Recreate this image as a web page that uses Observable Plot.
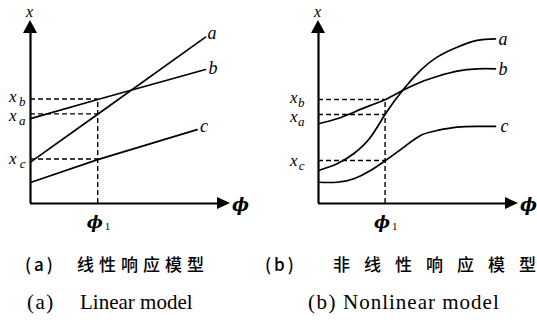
<!DOCTYPE html>
<html>
<head>
<meta charset="utf-8">
<script src="https://cdn.jsdelivr.net/npm/d3@7"></script>
<script src="https://cdn.jsdelivr.net/npm/@observablehq/plot@0.6"></script>
<style>
  html, body { margin: 0; padding: 0; background: #fff; }
  #wrap { position: relative; width: 537px; height: 331px; overflow: hidden; }
  .panel { position: absolute; top: 0; }
  .cap { position: absolute; white-space: nowrap; color: #000; }
  .zh { font-family: "Noto Sans CJK SC", sans-serif; font-size: 17px; font-weight: 500; line-height: 20px; top: 254px; }
  .en { font-family: "Liberation Serif", serif; font-size: 21px; line-height: 24px; top: 290px; }
  .par { letter-spacing: 3px; }
  .en.par { letter-spacing: 1.5px; }
  .last { letter-spacing: 0; }
</style>
</head>
<body>
<div id="wrap">
  <div class="panel" id="left" style="left:0"></div>
  <div class="panel" id="right" style="left:268px"></div>
  <span class="cap zh par" style="left:25px">(a)</span>
  <span class="cap zh" style="left:77px; letter-spacing:5px">线性响应模<span class="last">型</span></span>
  <span class="cap zh par" style="left:265px">(b)</span>
  <span class="cap zh" style="left:333px; letter-spacing:14px">非线性响应模<span class="last">型</span></span>
  <span class="cap en par" style="left:27px">(a)</span>
  <span class="cap en" style="left:80px">Linear model</span>
  <span class="cap en par" style="left:308px">(b)</span>
  <span class="cap en" style="left:343px; letter-spacing:1px">Nonlinear mode<span class="last">l</span></span>
</div>
<script>
// ---------- data (φ, x) ----------
const curveNames = ["a", "b", "c"];

// (a) linear model
const linPhiA = [0, 3.36, 8.75];
const linXA   = [2.26, 4.88, 9.09];
const linPhiB = [0, 3.36, 8.75];
const linXB   = [4.64, 5.68, 7.32];
const linPhiC = [0, 3.36, 8.33];
const linXC   = [1.15, 2.40, 4.04];
const linPhi1 = 3.36;
const linLevelNames = ["b", "a", "c"];
const linLevels = [5.71, 4.90, 2.43];

// (b) nonlinear model
const nlPhi  = [0, 0.93, 1.77, 2.6, 3.35, 4.27, 5.1, 5.93, 6.93, 7.93, 8.85];
const nlXA   = [1.80, 2.17, 2.73, 3.62, 4.90, 6.27, 7.27, 8.00, 8.54, 8.91, 9.00];
const nlXB   = [4.36, 4.63, 4.99, 5.36, 5.68, 6.21, 6.63, 6.94, 7.23, 7.36, 7.36];
const nlXC   = [1.16, 1.16, 1.35, 1.80, 2.35, 3.08, 3.72, 3.99, 4.17, 4.21, 4.21];
const nlPhi1 = 3.33;
const nlLevelNames = ["b", "a", "c"];
const nlLevels = [5.68, 4.86, 2.35];

// ---------- helpers ----------
const zip = (name, phis, xs) => phis.map((p, i) => ({curve: name, phi: p, x: xs[i]}));
const serif = "Liberation Serif, serif";

function arrowHeads(index, scales) {
  const {x, y} = scales;
  const g = d3.create("svg:g").attr("fill", "black");
  const x0 = x(0), y0 = y(0), yTop = y(10), xEnd = x(10);
  g.append("path").attr("d", `M${x0},${yTop}L${x0 - 7},${yTop + 13}L${x0 + 7},${yTop + 13}Z`);
  g.append("path").attr("d", `M${xEnd},${y0}L${xEnd - 13},${y0 - 6}L${xEnd - 13},${y0 + 6}Z`);
  return g.node();
}

function panel({width, marginLeft, marginRight, series, curve, phi1, levels, levelNames,
                labelOffsets, levelDy, xDx, subDx}) {
  const data = series.flat();
  const ends = series.map(s => s[s.length - 1]);
  const labelMarks = ends.map((e, i) =>
    Plot.text([e], {x: "phi", y: "x", text: "curve", textAnchor: "start",
      dx: labelOffsets[i][0], dy: labelOffsets[i][1],
      fontFamily: serif, fontStyle: "italic", fontSize: 18}));
  const levelMarks = levels.flatMap((lv, i) => [
    Plot.text([lv], {x: 0, y: d => d, text: () => "x", textAnchor: "end", dx: xDx, dy: levelDy[i] - 2,
      fontFamily: serif, fontStyle: "italic", fontSize: 17}),
    Plot.text([lv], {x: 0, y: d => d, text: () => levelNames[i], textAnchor: "end", dx: subDx, dy: levelDy[i] + 3,
      fontFamily: serif, fontStyle: "italic", fontSize: 13})
  ]);
  return Plot.plot({
    width, height: 240,
    marginLeft, marginRight, marginTop: 20, marginBottom: 37,
    x: {domain: [0, 10], axis: null},
    y: {domain: [0, 10], axis: null},
    style: {background: "white", overflow: "visible"},
    marks: [
      // dashed guides
      Plot.ruleY(levels, {x1: 0, x2: phi1, stroke: "black", strokeWidth: 1.4, strokeDasharray: "5,3"}),
      Plot.ruleX([phi1], {y1: 0, y2: d3.max(levels), stroke: "black", strokeWidth: 1.4, strokeDasharray: "5,3"}),
      // curves
      Plot.line(data, {x: "phi", y: "x", z: "curve", curve, stroke: "black", strokeWidth: 1.7}),
      // axes
      Plot.ruleX([0], {y1: 0, y2: 9.4, stroke: "black", strokeWidth: 2.2}),
      Plot.ruleY([0], {x1: 0, x2: 9.5, stroke: "black", strokeWidth: 2.2}),
      arrowHeads,
      ...labelMarks,
      ...levelMarks,
      // axis titles
      Plot.text([10], {x: 0, y: d => d, text: () => "x", dy: -9, dx: -1, fontFamily: serif, fontStyle: "italic", fontSize: 16}),
      Plot.text([10], {x: d => d, y: 0, text: () => "ϕ", dx: 10, dy: 2, textAnchor: "middle", fontFamily: "DejaVu Serif, serif", fontStyle: "italic", fontWeight: "bold", fontSize: 18}),
      // φ1
      Plot.text([phi1], {x: d => d, y: 0, text: () => "ϕ", dy: 19, dx: -3, fontFamily: "DejaVu Serif, serif", fontStyle: "italic", fontWeight: "bold", fontSize: 17}),
      Plot.text([phi1], {x: d => d, y: 0, text: () => "1", dy: 23, dx: 7, textAnchor: "start", fontFamily: serif, fontSize: 11})
    ]
  });
}

document.getElementById("left").appendChild(panel({
  width: 268, marginLeft: 30, marginRight: 38,
  series: [zip("a", linPhiA, linXA), zip("b", linPhiB, linXB), zip("c", linPhiC, linXC)],
  curve: "linear", phi1: linPhi1, levels: linLevels, levelNames: linLevelNames,
  labelOffsets: [[2, -4], [3, -1], [3, -3]], levelDy: [0, 4, 2], xDx: -14, subDx: -5
}));

document.getElementById("right").appendChild(panel({
  width: 269, marginLeft: 50, marginRight: 19,
  series: [zip("a", nlPhi, nlXA), zip("b", nlPhi, nlXB), zip("c", nlPhi, nlXC)],
  curve: "natural", phi1: nlPhi1, levels: nlLevels, levelNames: nlLevelNames,
  labelOffsets: [[3, 0], [3, 0], [5, 0]], levelDy: [0, 4, 2], xDx: -21, subDx: -14
}));
</script>
</body>
</html>
